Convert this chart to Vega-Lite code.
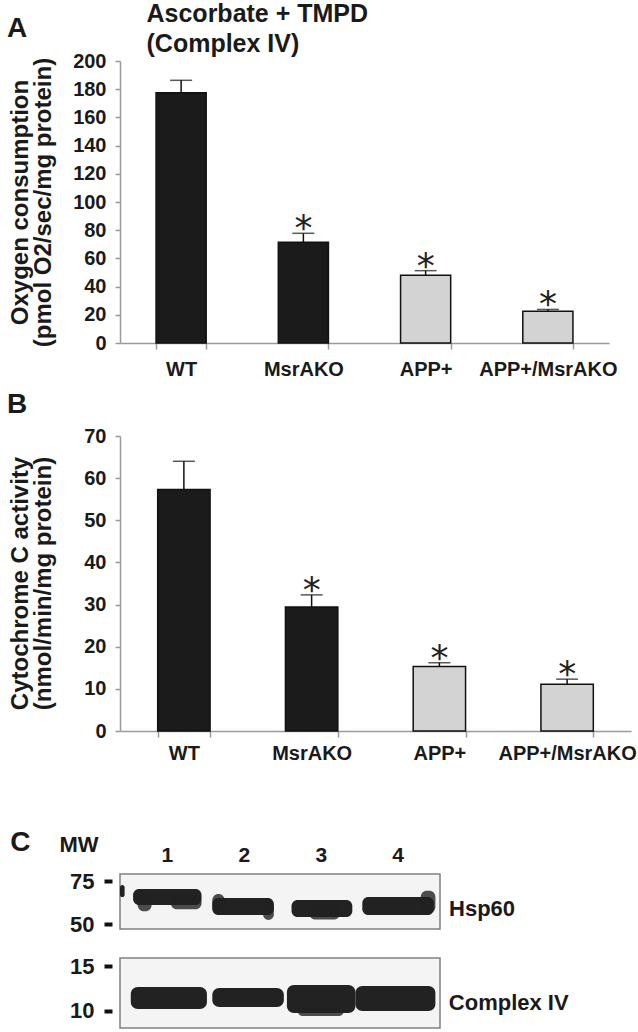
{
  "$schema": "https://vega.github.io/schema/vega-lite/v6.json",
  "background": "white",
  "padding": {"left": 6, "top": 1, "right": 0, "bottom": 0},
  "config": {
    "font": "Liberation Sans",
    "view": {"stroke": null},
    "axis": {
      "labelFont": "Liberation Sans", "labelFontWeight": "bold", "labelColor": "#1a1a1a",
      "titleFont": "Liberation Sans", "titleFontWeight": "bold", "titleColor": "#1a1a1a",
      "domainColor": "#9a9a9a", "tickColor": "#9a9a9a", "domainWidth": 1.5, "tickWidth": 1.5, "grid": false
    },
    "title": {"font": "Liberation Sans", "fontWeight": "bold", "color": "#1a1a1a"}
  },
  "datasets": {
    "oxygen": [
      {"group": "WT", "value": 177.5, "upper": 186.3, "transgene": "none", "sig": ""},
      {"group": "MsrAKO", "value": 71.4, "upper": 77.8, "transgene": "none", "sig": "*"},
      {"group": "APP+", "value": 48.0, "upper": 51.3, "transgene": "APP+", "sig": "*"},
      {"group": "APP+/MsrAKO", "value": 22.5, "upper": 23.8, "transgene": "APP+", "sig": "*"}
    ],
    "cytc": [
      {"group": "WT", "value": 57.3, "upper": 64.0, "transgene": "none", "sig": ""},
      {"group": "MsrAKO", "value": 29.4, "upper": 32.3, "transgene": "none", "sig": "*"},
      {"group": "APP+", "value": 15.3, "upper": 16.2, "transgene": "APP+", "sig": "*"},
      {"group": "APP+/MsrAKO", "value": 11.1, "upper": 12.3, "transgene": "APP+", "sig": "*"}
    ],
    "hsp60": [
      {"lane": 0, "part": "main", "x0": 0.39, "x1": 0.45, "top": 72.7, "bottom": 65.7},
      {"lane": 1, "part": "main", "x0": 0.56, "x1": 1.45, "top": 70.4, "bottom": 61.1},
      {"lane": 1, "part": "tail", "x0": 0.62, "x1": 0.80, "top": 67.5, "bottom": 57.5},
      {"lane": 1, "part": "tail", "x0": 1.05, "x1": 1.45, "top": 66.3, "bottom": 58.6},
      {"lane": 2, "part": "main", "x0": 1.59, "x1": 2.39, "top": 65.1, "bottom": 55.3},
      {"lane": 2, "part": "tail", "x0": 1.59, "x1": 1.75, "top": 67.5, "bottom": 56.4},
      {"lane": 2, "part": "tail", "x0": 2.25, "x1": 2.39, "top": 63.4, "bottom": 52.4},
      {"lane": 3, "part": "main", "x0": 2.62, "x1": 3.41, "top": 64.0, "bottom": 54.1},
      {"lane": 3, "part": "tail", "x0": 2.85, "x1": 3.25, "top": 60.5, "bottom": 52.6},
      {"lane": 4, "part": "main", "x0": 3.54, "x1": 4.47, "top": 65.7, "bottom": 55.3},
      {"lane": 4, "part": "tail", "x0": 4.30, "x1": 4.49, "top": 69.4, "bottom": 56.4}
    ],
    "cox": [
      {"lane": 1, "part": "main", "x0": 0.53, "x1": 1.52, "top": 12.67, "bottom": 10.22},
      {"lane": 2, "part": "main", "x0": 1.59, "x1": 2.52, "top": 12.56, "bottom": 10.45},
      {"lane": 3, "part": "main", "x0": 2.56, "x1": 3.45, "top": 12.89, "bottom": 9.78},
      {"lane": 3, "part": "tail", "x0": 2.70, "x1": 3.30, "top": 10.56, "bottom": 9.45},
      {"lane": 4, "part": "main", "x0": 3.45, "x1": 4.49, "top": 12.78, "bottom": 10.0}
    ]
  },
  "spacing": 66,
  "vconcat": [
    {
      "spacing": 12,
      "vconcat": [
        {
          "width": 489, "height": 282,
          "title": {"text": "A", "anchor": "start", "frame": "bounds", "fontSize": 28, "baseline": "alphabetic", "offset": -49, "dx": -1, "dy": 15},
          "data": {"name": "oxygen"},
          "resolve": {"axis": {"x": "independent", "y": "independent"}},
          "layer": [
            {
              "mark": {"type": "bar", "stroke": "#111111", "strokeWidth": 1.5},
              "encoding": {
                "x": {"field": "group", "type": "nominal", "sort": ["WT", "MsrAKO", "APP+", "APP+/MsrAKO"],
                      "scale": {"paddingInner": 0.59, "paddingOuter": 0.295},
                      "axis": {"orient": "bottom", "title": null, "labelAngle": 0, "labelFontSize": 20, "labelPadding": 10, "tickBand": "extent", "tickSize": 6}},
                "y": {"field": "value", "type": "quantitative", "scale": {"domain": [0, 200], "nice": false},
                      "axis": {"orient": "left", "values": [0, 20, 40, 60, 80, 100, 120, 140, 160, 180, 200], "labelFontSize": 20, "labelPadding": 9, "tickSize": 5,
                               "title": ["Oxygen consumption", "(pmol O2/sec/mg protein)"], "titleFontSize": 24, "titleLineHeight": 23,
                               "titleAngle": -90, "titleX": -112, "titleY": 141, "titleAlign": "center", "titleBaseline": "top"}},
                "fill": {"field": "transgene", "type": "nominal", "scale": {"domain": ["none", "APP+"], "range": ["#1b1b1b", "#d3d3d3"]}, "legend": null}
              }
            },
            {
              "mark": {"type": "rule", "color": "#111111", "strokeWidth": 1.5},
              "encoding": {
                "x": {"field": "group", "type": "nominal", "sort": ["WT", "MsrAKO", "APP+", "APP+/MsrAKO"], "axis": null},
                "y": {"field": "value", "type": "quantitative", "scale": {"domain": [0, 200], "nice": false}, "axis": null},
                "y2": {"field": "upper"}
              }
            },
            {
              "mark": {"type": "tick", "orient": "horizontal", "size": 22, "thickness": 1.5, "color": "#111111"},
              "encoding": {
                "x": {"field": "group", "type": "nominal", "sort": ["WT", "MsrAKO", "APP+", "APP+/MsrAKO"], "axis": null},
                "y": {"field": "upper", "type": "quantitative", "scale": {"domain": [0, 200], "nice": false}, "axis": null}
              }
            },
            {
              "transform": [{"filter": "datum.sig != ''"}],
              "mark": {"type": "text", "font": "DejaVu Sans", "fontSize": 36, "baseline": "alphabetic", "dy": 7, "color": "#222222"},
              "encoding": {
                "x": {"field": "group", "type": "nominal", "sort": ["WT", "MsrAKO", "APP+", "APP+/MsrAKO"], "axis": null},
                "y": {"field": "upper", "type": "quantitative", "scale": {"domain": [0, 200], "nice": false}, "axis": null},
                "text": {"field": "sig"}
              }
            },
            {
              "mark": {"type": "rule", "opacity": 0},
              "encoding": {
                "x": {"field": "group", "type": "nominal", "sort": ["WT", "MsrAKO", "APP+", "APP+/MsrAKO"],
                      "axis": {"orient": "top", "labels": false, "ticks": false, "domain": false,
                               "title": ["Ascorbate + TMPD", "(Complex IV)"], "titleFontSize": 25, "titleLineHeight": 30,
                               "titleX": 26, "titleY": -60, "titleAlign": "left", "titleBaseline": "top", "titleAngle": 0}}
              }
            }
          ]
        },
        {
          "width": 511, "height": 295,
          "title": {"text": "B", "anchor": "start", "frame": "bounds", "fontSize": 28, "baseline": "alphabetic", "offset": 11, "dx": -1, "dy": 26},
          "data": {"name": "cytc"},
          "resolve": {"axis": {"x": "independent", "y": "independent"}},
          "layer": [
            {
              "mark": {"type": "bar", "stroke": "#111111", "strokeWidth": 1.5},
              "encoding": {
                "x": {"field": "group", "type": "nominal", "sort": ["WT", "MsrAKO", "APP+", "APP+/MsrAKO"],
                      "scale": {"paddingInner": 0.59, "paddingOuter": 0.295},
                      "axis": {"orient": "bottom", "title": null, "labelAngle": 0, "labelFontSize": 20, "labelPadding": 6, "tickBand": "extent", "tickSize": 6}},
                "y": {"field": "value", "type": "quantitative", "scale": {"domain": [0, 70], "nice": false},
                      "axis": {"orient": "left", "values": [0, 10, 20, 30, 40, 50, 60, 70], "labelFontSize": 20, "labelPadding": 9, "tickSize": 5,
                               "title": ["Cytochrome C activity", "(nmol/min/mg protein)"], "titleFontSize": 24, "titleLineHeight": 23,
                               "titleAngle": -90, "titleX": -112, "titleY": 147, "titleAlign": "center", "titleBaseline": "top"}},
                "fill": {"field": "transgene", "type": "nominal", "scale": {"domain": ["none", "APP+"], "range": ["#1b1b1b", "#d3d3d3"]}, "legend": null}
              }
            },
            {
              "mark": {"type": "rule", "color": "#111111", "strokeWidth": 1.5},
              "encoding": {
                "x": {"field": "group", "type": "nominal", "sort": ["WT", "MsrAKO", "APP+", "APP+/MsrAKO"], "axis": null},
                "y": {"field": "value", "type": "quantitative", "scale": {"domain": [0, 70], "nice": false}, "axis": null},
                "y2": {"field": "upper"}
              }
            },
            {
              "mark": {"type": "tick", "orient": "horizontal", "size": 22, "thickness": 1.5, "color": "#111111"},
              "encoding": {
                "x": {"field": "group", "type": "nominal", "sort": ["WT", "MsrAKO", "APP+", "APP+/MsrAKO"], "axis": null},
                "y": {"field": "upper", "type": "quantitative", "scale": {"domain": [0, 70], "nice": false}, "axis": null}
              }
            },
            {
              "transform": [{"filter": "datum.sig != ''"}],
              "mark": {"type": "text", "font": "DejaVu Sans", "fontSize": 36, "baseline": "alphabetic", "dy": 7, "color": "#222222"},
              "encoding": {
                "x": {"field": "group", "type": "nominal", "sort": ["WT", "MsrAKO", "APP+", "APP+/MsrAKO"], "axis": null},
                "y": {"field": "upper", "type": "quantitative", "scale": {"domain": [0, 70], "nice": false}, "axis": null},
                "text": {"field": "sig"}
              }
            }
          ]
        }
      ]
    },
    {
      "bounds": "flush",
      "spacing": 29,
      "title": {"text": "C", "anchor": "start", "frame": "bounds", "fontSize": 28, "baseline": "alphabetic", "offset": -17, "dx": -48, "dy": 30},
      "vconcat": [
        {
          "width": 320, "height": 55,
          "view": {"fill": "#f4f4f4", "stroke": "#808080", "strokeWidth": 1.5},
          "title": {"text": "Hsp60", "orient": "right", "angle": 0, "anchor": "middle", "frame": "group", "align": "left", "baseline": "middle", "offset": 9, "dx": -66, "dy": 7, "fontSize": 22},
          "data": {"name": "hsp60"},
          "mark": {"type": "rect", "color": "#222222", "cornerRadius": 6},
          "encoding": {
            "x": {"field": "x0", "type": "quantitative", "scale": {"domain": [0.39, 4.55], "nice": false, "zero": false},
                  "axis": {"orient": "top", "values": [1, 2, 3, 4], "ticks": false, "domain": false, "labelFontSize": 21, "labelPadding": 9, "title": null}},
            "x2": {"field": "x1"},
            "y": {"field": "top", "type": "quantitative", "scale": {"domain": [47.1, 79.1], "nice": false, "zero": false},
                  "axis": {"values": [50, 75], "offset": 8, "tickSize": 8, "tickWidth": 4, "tickColor": "#111111", "domain": false,
                           "labelFontSize": 22, "labelPadding": 10,
                           "title": "MW", "titleFontSize": 22, "titleAngle": 0, "titleX": -53, "titleY": -23, "titleAlign": "left", "titleBaseline": "alphabetic"}},
            "y2": {"field": "bottom"},
            "opacity": {"field": "part", "type": "nominal", "scale": {"domain": ["main", "tail"], "range": [1, 0.8]}, "legend": null}
          }
        },
        {
          "width": 320, "height": 70,
          "view": {"fill": "#f4f4f4", "stroke": "#808080", "strokeWidth": 1.5},
          "title": {"text": "Complex IV", "orient": "right", "angle": 0, "anchor": "middle", "frame": "group", "align": "left", "baseline": "middle", "offset": 9, "dx": -120, "dy": 10, "fontSize": 22},
          "data": {"name": "cox"},
          "mark": {"type": "rect", "color": "#222222", "cornerRadius": 7},
          "encoding": {
            "x": {"field": "x0", "type": "quantitative", "scale": {"domain": [0.39, 4.55], "nice": false, "zero": false}, "axis": null},
            "x2": {"field": "x1"},
            "y": {"field": "top", "type": "quantitative", "scale": {"domain": [8.11, 15.89], "nice": false, "zero": false},
                  "axis": {"values": [10, 15], "offset": 8, "tickSize": 8, "tickWidth": 4, "tickColor": "#111111", "domain": false,
                           "labelFontSize": 22, "labelPadding": 10, "title": null}},
            "y2": {"field": "bottom"},
            "opacity": {"field": "part", "type": "nominal", "scale": {"domain": ["main", "tail"], "range": [1, 0.8]}, "legend": null}
          }
        }
      ]
    }
  ]
}
